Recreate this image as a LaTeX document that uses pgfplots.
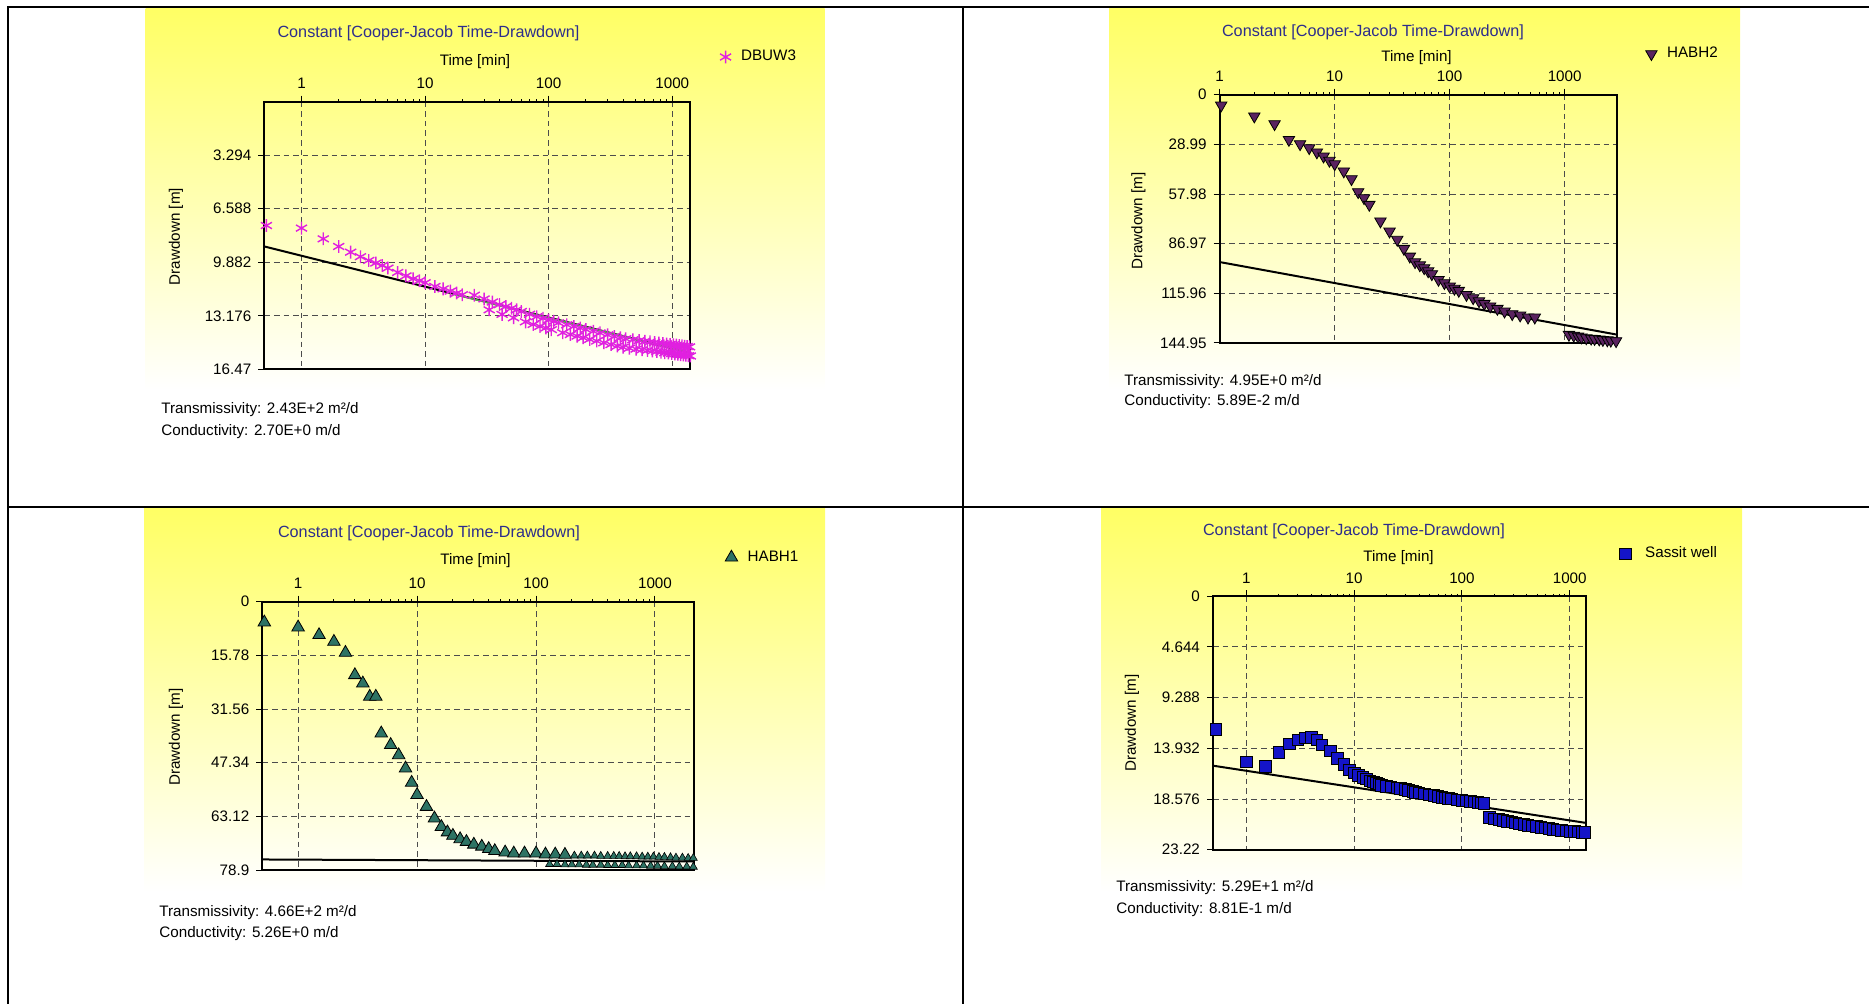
\documentclass[border=0pt]{standalone}
\usepackage{fontspec}
\setmainfont{Liberation Sans}
\usepackage{pgfplots}
\pgfplotsset{compat=1.18}

\definecolor{ylw}{RGB}{255,255,100}
\definecolor{ttl}{RGB}{45,45,140}
\definecolor{mag}{RGB}{224,32,224}
\definecolor{plum}{RGB}{90,35,95}
\definecolor{tealg}{RGB}{45,115,100}
\definecolor{wellblue}{RGB}{20,20,200}
\definecolor{fitgreen}{RGB}{90,160,80}

\newcommand{\smalltxt}{\fontsize{7.6}{9}\selectfont}
\newcommand{\ttlfont}{\fontsize{8.1}{9}\selectfont}

\begin{document}
\begin{tikzpicture}
\begin{scope}[x=0.5pt,y=-0.5pt]
% chart backgrounds
\shade[top color=ylw, bottom color=white] (145.7,8.5) rectangle (824.6,390);
\shade[top color=ylw, bottom color=white] (1109,8.5) rectangle (1740,390);
\shade[top color=ylw, bottom color=white] (144.5,508) rectangle (825,892);
\shade[top color=ylw, bottom color=white] (1101,508) rectangle (1742,892);
% table rules
\draw[line width=1pt] (7.5,1004) -- (7.5,7.5) -- (1869,7.5);
\draw[line width=1pt] (963,7.5) -- (963,1004);
\draw[line width=1pt] (7.5,507) -- (1869,507);
\coordinate (A1) at (264.3,101.7);
\coordinate (A2) at (1219.7,94.7);
\coordinate (A3) at (262.3,601.7);
\coordinate (A4) at (1213,596.3);
\end{scope}

% ---------- DBUW3 ----------
\begin{axis}[at={(A1)}, anchor=north west, scale only axis,
  width=213pt, height=133.8pt,
  xmode=log, y dir=reverse,
  xmin=0.5, xmax=1400, ymin=0, ymax=16.47,
  xtick={1,10,100,1000}, xticklabels={1,10,100,1000},
  ytick={3.294,6.588,9.882,13.176,16.47},
  yticklabels={3.294,6.588,9.882,13.176,16.47},
  xtick pos=right, xticklabel pos=right, ytick pos=left,
  tick align=outside, major tick length=3pt, minor tick length=1.2pt,
  tick style={black, line width=0.5pt},
  axis line style={line width=1.1pt},
  grid=major,
  major grid style={black!70, line width=0.5pt, dash pattern=on 2.8pt off 2pt},
  tick label style={font=\smalltxt},
  legend style={at={(1.0688,1.167)}, anchor=west, draw=none, fill=none, inner sep=0pt,
    font=\smalltxt, nodes={inner sep=0.5pt}, column sep=4.5pt}]
\addplot[only marks, mark=asterisk, mark size=3.2pt, color=mag,
  mark options={line width=0.7pt}] coordinates {
  (0.52,7.62) (1,7.78) (1.5,8.44) (2,8.91) (2.5,9.26) (3,9.54) (3.5,9.77)
  (4,9.93) (4.5,10.08) (5,10.24) (6,10.51) (7,10.72) (8,10.9) (9,11.02)
  (10,11.14) (12,11.37) (14,11.52) (16,11.66) (18,11.78) (20,11.88)
  (25,11.91) (30,12.14) (35,12.33) (40,12.49) (45,12.61) (50,12.71) (55,12.81)
  (60,12.91) (70,13.08) (80,13.23) (90,13.33) (100,13.43) (110,13.52)
  (120,13.61) (140,13.73) (160,13.83) (180,13.93) (200,14.02) (230,14.13)
  (260,14.23) (300,14.35) (340,14.45) (380,14.53) (420,14.59) (480,14.65)
  (540,14.70) (600,14.74) (660,14.78) (720,14.82) (780,14.85) (840,14.88)
  (900,14.91) (960,14.94) (1020,14.96) (1080,14.98) (1140,15.01) (1200,15.03)
  (1260,15.05) (1320,15.07) (1380,15.09)
  (33,12.81) (42,13.09) (52,13.3) (65,13.55) (75,13.71) (85,13.83) (95,13.93)
  (105,14.03) (130,14.22) (150,14.33) (170,14.43) (190,14.53) (215,14.63)
  (245,14.73) (280,14.84) (320,14.95) (360,15.04) (400,15.11) (450,15.17)
  (510,15.23) (570,15.27) (630,15.31) (690,15.35) (750,15.38) (810,15.42)
  (870,15.45) (930,15.47) (990,15.5) (1050,15.52) (1110,15.55) (1170,15.57)
  (1230,15.59) (1290,15.61) (1350,15.63) (1400,15.65)};
\addlegendentry{DBUW3}
\addplot[black, line width=1pt, forget plot] coordinates {(0.5,8.91) (1400,15.46)};
\addplot[fitgreen, line width=0.8pt, forget plot] coordinates {(17,11.85) (1400,15.46)};
\end{axis}

% ---------- HABH2 ----------
\begin{axis}[at={(A2)}, anchor=north west, scale only axis,
  width=198.8pt, height=124.15pt,
  xmode=log, y dir=reverse,
  xmin=1, xmax=2870, ymin=0, ymax=144.95,
  xtick={1,10,100,1000}, xticklabels={1,10,100,1000},
  ytick={0,28.99,57.98,86.97,115.96,144.95},
  yticklabels={0,28.99,57.98,86.97,115.96,144.95},
  xtick pos=right, xticklabel pos=right, ytick pos=left,
  tick align=outside, major tick length=3pt, minor tick length=1.2pt,
  tick style={black, line width=0.5pt},
  axis line style={line width=1.1pt},
  grid=major,
  major grid style={black!70, line width=0.5pt, dash pattern=on 2.8pt off 2pt},
  tick label style={font=\smalltxt},
  legend style={at={(1.0704,1.164)}, anchor=west, draw=none, fill=none, inner sep=0pt,
    font=\smalltxt, nodes={inner sep=0.5pt}, column sep=4.5pt}]
\addplot[only marks, mark=triangle*, mark size=3.3pt,
  mark options={rotate=180, fill=plum, draw=black, line width=0.4pt}] coordinates {
  (1.03,6.2) (2,12.6) (3,17.1) (4,26.3) (5,28.8) (6,31.1) (7,33.6) (8,36.0)
  (9,38.5) (10,40.5) (12,44.7) (14,49.2) (16,56.8) (18,60.3) (20,64.2)
  (25,73.9) (30,79.8) (35,84.6) (40,89.9) (45,94.4) (50,97.7) (55,99.5)
  (60,101.2) (65,103) (70,104.7) (80,108.0) (90,109.9) (100,111.9) (110,113.2)
  (120,114.4) (140,116.8) (160,118.7) (180,120.5) (200,122) (225,123.5)
  (260,124.9) (300,126.5) (350,128.0) (410,128.8) (480,130.0) (550,130.0)
  (1090,140.1) (1200,140.6) (1306,141.1) (1400,141.6) (1542,142.1) (1700,142.3)
  (1820,142.5) (2000,142.8) (2150,143.1) (2350,143.3) (2520,143.5) (2800,143.8)};
\addlegendentry{HABH2}
\addplot[black, line width=1pt, forget plot] coordinates {(1,97.7) (2870,140.1)};
\end{axis}

% ---------- HABH1 ----------
\begin{axis}[at={(A3)}, anchor=north west, scale only axis,
  width=216pt, height=134.15pt,
  xmode=log, y dir=reverse,
  xmin=0.5, xmax=2140, ymin=0, ymax=78.9,
  xtick={1,10,100,1000}, xticklabels={1,10,100,1000},
  ytick={0,15.78,31.56,47.34,63.12,78.9},
  yticklabels={0,15.78,31.56,47.34,63.12,78.9},
  xtick pos=right, xticklabel pos=right, ytick pos=left,
  tick align=outside, major tick length=3pt, minor tick length=1.2pt,
  tick style={black, line width=0.5pt},
  axis line style={line width=1.1pt},
  grid=major,
  major grid style={black!70, line width=0.5pt, dash pattern=on 2.8pt off 2pt},
  tick label style={font=\smalltxt},
  legend style={at={(1.0706,1.165)}, anchor=west, draw=none, fill=none, inner sep=0pt,
    font=\smalltxt, nodes={inner sep=0.5pt}, column sep=4.5pt}]
\addplot[only marks, mark=triangle*, mark size=3.6pt,
  mark options={fill=tealg, draw=black, line width=0.4pt}] coordinates {
  (0.52,6.06) (1,7.53) (1.5,9.79) (2,11.76) (2.5,15.0) (3,21.56) (3.5,24.0)
  (4,27.9) (4.5,27.9) (5,38.7) (6,42.1) (7,45.1) (8,49.0) (9,53.2) (10,56.8)
  (12,60.3) (14,63.7) (16,66.2) (18,67.8) (20,68.8) (23,69.8) (26,70.6)
  (30,71.4) (35,72.0) (40,72.7) (45,73.3) (55,73.7) (65,74.0) (80,74.0)
  (100,74.0) (120,74.3) (145,74.3) (175,74.4)};
\addlegendentry{HABH1}
\addplot[only marks, mark=triangle*, mark size=2.3pt, forget plot,
  mark options={fill=tealg, draw=black, line width=0.3pt}] coordinates {
  (210,74.7) (240,74.7) (270,74.7) (310,74.7) (350,74.8) (400,74.8) (450,74.8)
  (500,74.8) (560,74.9) (620,74.9) (700,74.9) (780,75.0) (870,75.0) (970,75.0)
  (1080,75.1) (1200,75.1) (1350,75.2) (1500,75.3) (1700,75.3) (1900,75.4)
  (2100,75.4)
  (130,77.2) (150,77.2) (175,77.3) (200,77.3) (230,77.3) (265,77.4) (300,77.4)
  (350,77.4) (400,77.5) (460,77.5) (530,77.5) (600,77.6) (700,77.6) (800,77.6)
  (920,77.7) (1050,77.7) (1200,77.8) (1400,77.8) (1600,77.9) (1850,77.9)
  (2100,78.0)};
\addplot[black, line width=1pt, forget plot] coordinates {(0.5,75.8) (2140,76.4)};
\end{axis}

% ---------- Sassit well ----------
\begin{axis}[at={(A4)}, anchor=north west, scale only axis,
  width=186.65pt, height=126.7pt,
  xmode=log, y dir=reverse,
  xmin=0.49, xmax=1425, ymin=0, ymax=23.22,
  xtick={1,10,100,1000}, xticklabels={1,10,100,1000},
  ytick={0,4.644,9.288,13.932,18.576,23.22},
  yticklabels={0,4.644,9.288,13.932,18.576,23.22},
  xtick pos=right, xticklabel pos=right, ytick pos=left,
  tick align=outside, major tick length=3pt, minor tick length=1.2pt,
  tick style={black, line width=0.5pt},
  axis line style={line width=1.1pt},
  grid=major,
  major grid style={black!70, line width=0.5pt, dash pattern=on 2.8pt off 2pt},
  tick label style={font=\smalltxt},
  legend style={at={(1.088,1.167)}, anchor=west, draw=none, fill=none, inner sep=0pt,
    font=\smalltxt, nodes={inner sep=0.5pt}, column sep=6.5pt}]
\addplot[only marks, mark=square*, mark size=2.9pt,
  mark options={fill=wellblue, draw=black, line width=0.4pt}] coordinates {
  (0.52,12.22) (1,15.18) (1.5,15.58) (2,14.30) (2.5,13.54) (3,13.14) (3.5,12.99)
  (4,12.92) (4.5,13.14) (5,13.6) (6,14.15) (7,14.88) (8,15.43) (9,15.89)
  (10,16.19) (11,16.4) (12,16.59) (13,16.75) (14,16.9) (15,17.0) (16,17.11)
  (17,17.2) (18,17.32) (20,17.4) (22,17.45) (25,17.55) (27,17.62) (30,17.72)
  (32,17.8) (35,17.87) (37,17.95) (40,18.03) (45,18.1) (50,18.18) (55,18.25)
  (60,18.33) (65,18.4) (70,18.48) (75,18.53) (80,18.58) (90,18.64) (100,18.69)
  (110,18.74) (120,18.79) (130,18.84) (140,18.88) (150,18.94) (160,19.0)
  (180,20.25) (200,20.41) (220,20.47) (240,20.53) (265,20.6) (290,20.68)
  (315,20.76) (340,20.84) (375,20.92) (410,20.99) (450,21.05) (490,21.11)
  (540,21.17) (590,21.23) (640,21.29) (700,21.35) (770,21.4) (840,21.44)
  (920,21.5) (1000,21.54) (1100,21.57) (1200,21.6) (1300,21.63) (1380,21.66)};
\addlegendentry{Sassit well}
\addplot[black, line width=1pt, forget plot] coordinates {(0.49,15.52) (1425,20.77)};
\end{axis}

% ---------- titles, axis names and results ----------
\begin{scope}[x=0.5pt,y=-0.5pt]
\node[font=\ttlfont, text=ttl] at (428.5,33.4) {Constant [Cooper-Jacob Time-Drawdown]};
\node[font=\smalltxt] at (475,62) {Time [min]};
\node[font=\smalltxt, rotate=90] at (176,236.5) {Drawdown [m]};
\node[font=\smalltxt, anchor=west, inner sep=0pt] at (161,410) {Transmissivity: 2.43E+2 m²/d};
\node[font=\smalltxt, anchor=west, inner sep=0pt] at (161,431.5) {Conductivity: 2.70E+0 m/d};

\node[font=\ttlfont, text=ttl] at (1373,32) {Constant [Cooper-Jacob Time-Drawdown]};
\node[font=\smalltxt] at (1416.5,58) {Time [min]};
\node[font=\smalltxt, rotate=90] at (1138.5,221) {Drawdown [m]};
\node[font=\smalltxt, anchor=west, inner sep=0pt] at (1124,381.5) {Transmissivity: 4.95E+0 m²/d};
\node[font=\smalltxt, anchor=west, inner sep=0pt] at (1124,401.7) {Conductivity: 5.89E-2 m/d};

\node[font=\ttlfont, text=ttl] at (429,533) {Constant [Cooper-Jacob Time-Drawdown]};
\node[font=\smalltxt] at (475.5,561) {Time [min]};
\node[font=\smalltxt, rotate=90] at (176,737) {Drawdown [m]};
\node[font=\smalltxt, anchor=west, inner sep=0pt] at (159,912.7) {Transmissivity: 4.66E+2 m²/d};
\node[font=\smalltxt, anchor=west, inner sep=0pt] at (159,934) {Conductivity: 5.26E+0 m/d};

\node[font=\ttlfont, text=ttl] at (1354,531) {Constant [Cooper-Jacob Time-Drawdown]};
\node[font=\smalltxt] at (1398.5,558) {Time [min]};
\node[font=\smalltxt, rotate=90] at (1132,723) {Drawdown [m]};
\node[font=\smalltxt, anchor=west, inner sep=0pt] at (1116,888) {Transmissivity: 5.29E+1 m²/d};
\node[font=\smalltxt, anchor=west, inner sep=0pt] at (1116,910) {Conductivity: 8.81E-1 m/d};
\end{scope}
\pgfresetboundingbox
\path[use as bounding box] (0pt,0pt) rectangle (934.5pt,-502pt);
\end{tikzpicture}
\end{document}
